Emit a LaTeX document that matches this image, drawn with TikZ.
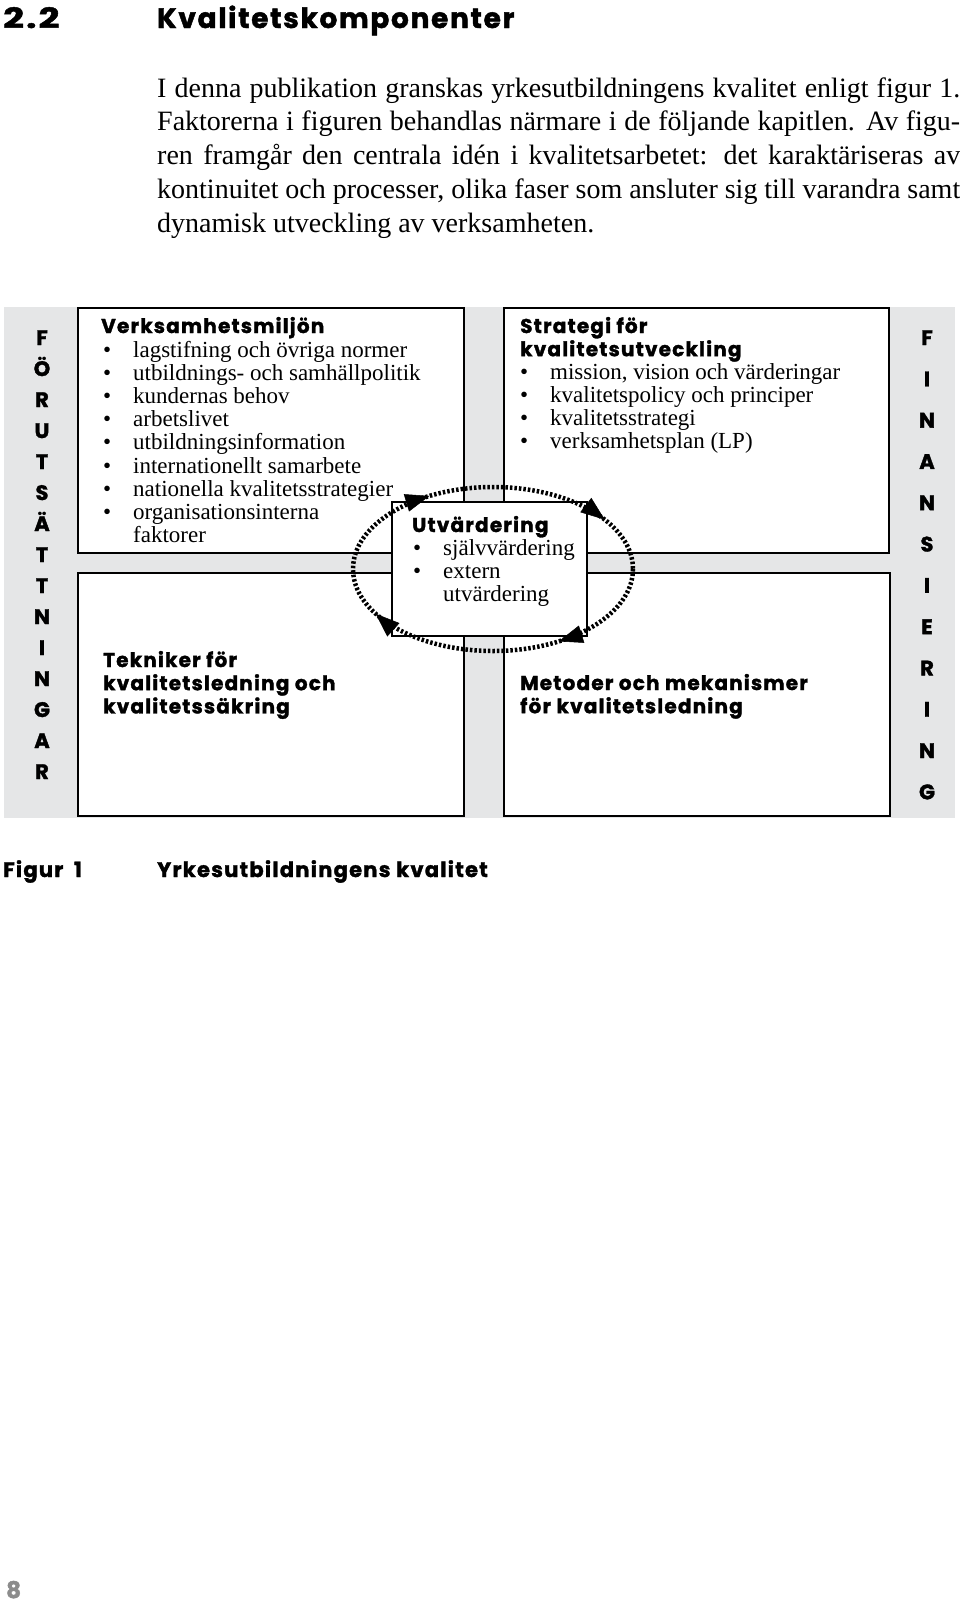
\documentclass[tikz,border=0pt]{standalone}
\usepackage{fontspec}
\setmainfont{Liberation Serif}
\newfontfamily\heavyfam{Poppins}[BoldFeatures={FakeBold=1.6, LetterSpace=6}]
\usetikzlibrary{arrows.meta}
\definecolor{bandgray}{RGB}{229,230,231}
\definecolor{pagegray}{RGB}{140,140,140}
\newcommand{\hv}{\heavyfam\bfseries}
\newcommand{\itm}[1]{\makebox[30pt][l]{\textbullet}#1}
\newcommand{\cnt}[1]{\hspace*{30pt}#1}
\newcommand{\jl}[1]{\makebox[803pt][s]{#1}}
\tikzset{
  box/.style={draw, line width=2.5pt, fill=white, inner sep=0pt, outer sep=0pt, anchor=north west},
  hd/.style={inner sep=0pt, anchor=base west, font=\hv\fontsize{20pt}{23.2pt}\selectfont},
  txt/.style={inner sep=0pt, anchor=base west, font=\fontsize{23pt}{23.2pt}\selectfont},
  vlet/.style={inner sep=0pt, anchor=base, font=\hv\fontsize{21pt}{21pt}\selectfont},
  evalcycle/.style={line width=4.5pt, dash pattern=on 2.5pt off 2pt},
  cyctip/.style={line width=0.5pt, -{Triangle[length=24pt,width=18pt]}}
}
\begin{document}
\begin{tikzpicture}[x=1pt,y=-1pt]
\useasboundingbox (0,0) rectangle (960,1604);
% heading
\node[inner sep=0pt, anchor=base west, font=\hv\fontsize{28pt}{28pt}\selectfont] (secnum) at (3,28) {\scalebox{1.3}[1]{2.2}};
\node[inner sep=0pt, anchor=base west, font=\hv\fontsize{28pt}{28pt}\selectfont] (sectitle) at (157,28) {Kvalitetskomponenter};
% paragraph
\node[inner sep=0pt, anchor=base west] (para) at (157,97) {\parbox[t]{803pt}{\fontsize{28pt}{33.8pt}\selectfont
\jl{I denna publikation granskas yrkesutbildningens kvalitet enligt figur 1.}\\
\jl{Faktorerna i figuren behandlas närmare i de följande kapitlen. Av figu-}\\
\jl{ren framgår den centrala idén i kvalitetsarbetet: det karaktäriseras av}\\
\jl{kontinuitet och processer, olika faser som ansluter sig till varandra samt}\\
dynamisk utveckling av verksamheten.}};
% background band
\fill[bandgray] (4,307) rectangle (955,818);
% boxes
\node[box, minimum width=386pt, minimum height=245pt] (env) at (78,308) {};
\node[box, minimum width=385pt, minimum height=245pt] (strat) at (504,308) {};
\node[box, minimum width=386pt, minimum height=243pt] (tech) at (78,573) {};
\node[box, minimum width=386pt, minimum height=243pt] (meth) at (504,573) {};
\node[box, minimum width=195pt, minimum height=134pt] (eval) at (392,502) {};
% side letters
\foreach \l [count=\i] in {F,Ö,R,U,T,S,Ä,T,T,N,I,N,G,A,R}
  \node[vlet] (left\i) at (42,{345+31*(\i-1)}) {\l};
\foreach \l [count=\i] in {F,I,N,A,N,S,I,E,R,I,N,G}
  \node[vlet] (right\i) at (927,{345+41.3*(\i-1)}) {\l};
% box texts
\node[hd] (envhd) at (101,333) {Verksamhetsmiljön};
\node[txt] (envtxt) at (103,357) {\parbox[t]{360pt}{\raggedright
\itm{lagstifning och övriga normer}\\
\itm{utbildnings- och samhällpolitik}\\
\itm{kundernas behov}\\
\itm{arbetslivet}\\
\itm{utbildningsinformation}\\
\itm{internationellt samarbete}\\
\itm{nationella kvalitetsstrategier}\\
\itm{organisationsinterna}\\
\cnt{faktorer}}};
\node[hd] (strathd) at (520,333) {\parbox[t]{360pt}{\raggedright Strategi för\\kvalitetsutveckling}};
\node[txt] (strattxt) at (520,379) {\parbox[t]{360pt}{\raggedright
\itm{mission, vision och värderingar}\\
\itm{kvalitetspolicy och principer}\\
\itm{kvalitetsstrategi}\\
\itm{verksamhetsplan (LP)}}};
\node[hd] (evalhd) at (412,532) {Utvärdering};
\node[txt] (evaltxt) at (413,555) {\parbox[t]{170pt}{\raggedright
\itm{självvärdering}\\
\itm{extern}\\
\cnt{utvärdering}}};
\node[hd] (techhd) at (103,667) {\parbox[t]{360pt}{\raggedright Tekniker för\\kvalitetsledning och\\kvalitetssäkring}};
\node[hd] (methhd) at (520,690) {\parbox[t]{360pt}{\raggedright Metoder och mekanismer\\för kvalitetsledning}};
% evaluation cycle
\coordinate (cyc) at (493,569);
\draw[evalcycle] (cyc) ellipse [x radius=140, y radius=82];
\coordinate (a1s) at (419.8,498.8); \coordinate (a1) at (429.4,495.9);
\coordinate (a2s) at (596.9,513.6); \coordinate (a2) at (604.8,519.7);
\coordinate (a3s) at (568.2,638.4); \coordinate (a3) at (558.7,641.4);
\coordinate (a4s) at (383.0,620.4); \coordinate (a4) at (375.6,613.7);
\draw[cyctip] (a1s) -- (a1);
\draw[cyctip] (a2s) -- (a2);
\draw[cyctip] (a3s) -- (a3);
\draw[cyctip] (a4s) -- (a4);
% caption
\node[hd, font=\hv\fontsize{21pt}{21pt}\selectfont] (fignum) at (3,877) {Figur\hspace{5pt} 1};
\node[hd, font=\hv\fontsize{21pt}{21pt}\selectfont] (figcap) at (157,877) {Yrkesutbildningens kvalitet};
% page number
\node[inner sep=0pt, anchor=base west, text=pagegray, font=\hv\fontsize{23pt}{23pt}\selectfont] (pagenum) at (6,1598) {8};
\end{tikzpicture}
\end{document}
